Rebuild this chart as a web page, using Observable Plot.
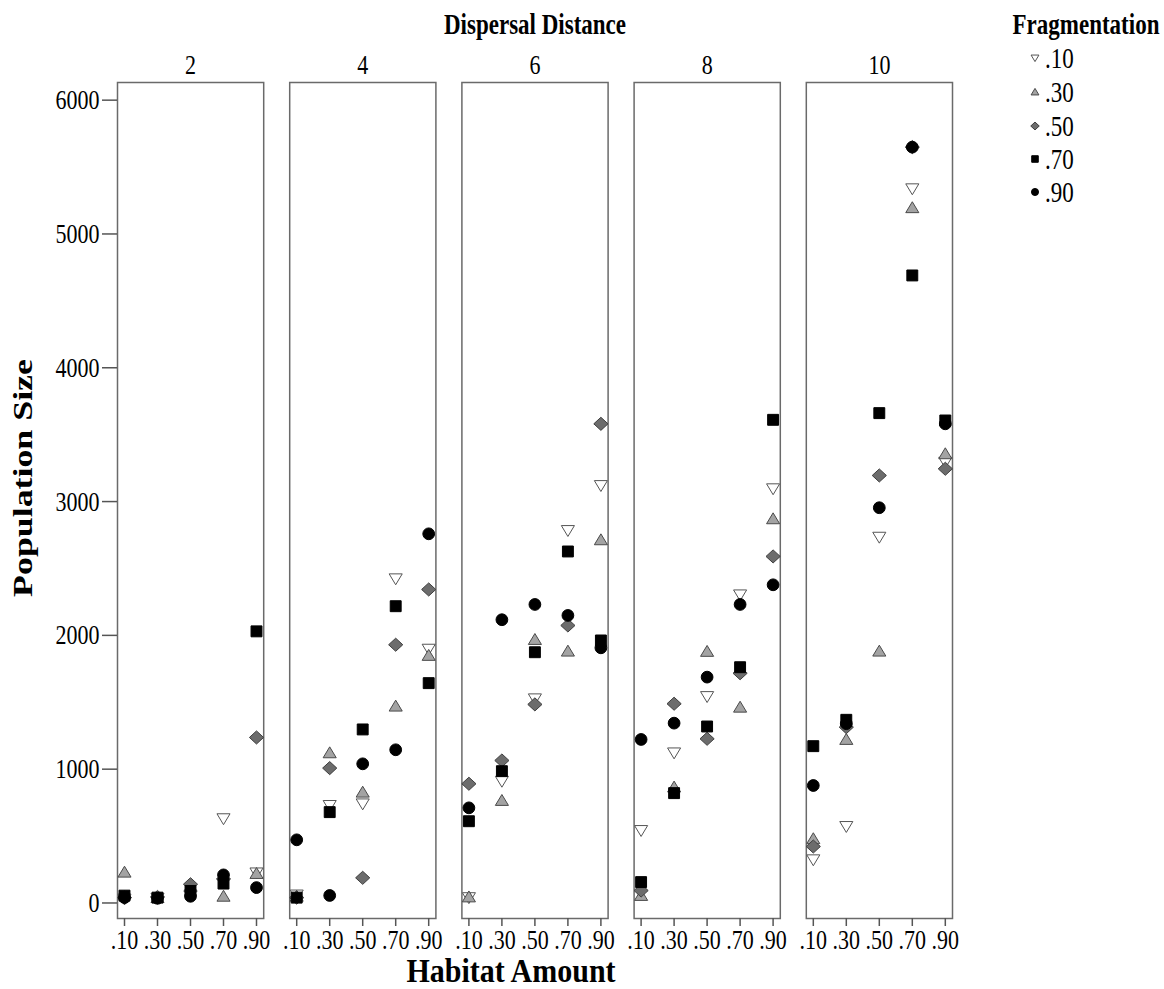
<!DOCTYPE html>
<html><head><meta charset="utf-8">
<script src="https://cdn.jsdelivr.net/npm/d3@7"></script>
<script src="https://cdn.jsdelivr.net/npm/@observablehq/plot@0.6"></script>
<style>body{margin:0;background:#fff;} #chart{position:relative;width:1164px;height:989px;}</style>
</head><body><div id="chart"></div>
<script>
// Facets, categories and tick labels
const dispersal = [2, 4, 6, 8, 10];
const habitat = [".10", ".30", ".50", ".70", ".90"];
const fragmentation = [".10", ".30", ".50", ".70", ".90"];
const yTicks = [0, 1000, 2000, 3000, 4000, 5000, 6000];

// Population size per fragmentation level: one row per dispersal distance (2,4,6,8,10),
// columns = habitat amount (.10,.30,.50,.70,.90)
const frag10 = [[30, 35, 60, 630, 225], [60, 729, 741, 2423, 1897], [40, 910, 1526, 2784, 3120], [542, 1122, 1543, 2303, 3096], [323, 572, 2734, 5338, 3294]];
const frag30 = [[230, 40, 120, 50, 220], [50, 1122, 828, 1471, 1850], [45, 766, 1969, 1882, 2714], [56, 866, 1880, 1463, 2871], [480, 1222, 1882, 5196, 3357]];
const frag50 = [[40, 45, 140, 180, 1237], [40, 1008, 188, 1930, 2343], [891, 1065, 1484, 2074, 3581], [93, 1489, 1227, 1717, 2590], [422, 1314, 3195, 5649, 3245]];
const frag70 = [[55, 40, 90, 145, 2030], [40, 679, 1297, 2218, 1643], [611, 985, 1874, 2627, 1962], [156, 821, 1319, 1762, 3611], [1172, 1369, 3661, 4690, 3606]];
const frag90 = [[40, 35, 50, 210, 115], [472, 56, 1040, 1145, 2759], [711, 2117, 2231, 2149, 1907], [1222, 1344, 1688, 2231, 2378], [878, 1340, 2954, 5649, 3581]];
const seriesValues = [frag10, frag30, frag50, frag70, frag90];

// Build a tidy table
const rows = [];
fragmentation.forEach((f, fi) => {
  dispersal.forEach((d, di) => {
    habitat.forEach((h, hi) => {
      rows.push({frag: f, dispersal: d, habitat: h, value: seriesValues[fi][di][hi]});
    });
  });
});

// Custom symbols (unit shapes, scaled by radius)
function poly(pts) {
  return {
    draw(ctx, size) {
      const k = Math.sqrt(size / Math.PI) / 5.5;
      ctx.moveTo(pts[0][0] * k, pts[0][1] * k);
      for (let i = 1; i < pts.length; i++) ctx.lineTo(pts[i][0] * k, pts[i][1] * k);
      ctx.closePath();
    }
  };
}
const triDown = poly([[-6, -4.5], [6, -4.5], [0, 5.5]]);
const triUp = poly([[-6, 4.5], [6, 4.5], [0, -5.5]]);
const diamond = poly([[-6.5, 0], [0, -6], [6.5, 0], [0, 6]]);
const square = poly([[-5, -5], [5, -5], [5, 5], [-5, 5]]);
const circle = {draw(ctx, size) { const r = Math.sqrt(size / Math.PI) * 0.98; ctx.moveTo(r, 0); ctx.arc(0, 0, r, 0, 2 * Math.PI); ctx.closePath(); }};

const symbolStyles = [
  {symbol: triDown, fill: "#ffffff", stroke: "#555555"},
  {symbol: triUp, fill: "#a3a3a3", stroke: "#4a4a4a"},
  {symbol: diamond, fill: "#6c6c6c", stroke: "#3f3f3f"},
  {symbol: square, fill: "#000000", stroke: "#000000"},
  {symbol: circle, fill: "#000000", stroke: "#000000"}
];

const FONT = "'Liberation Serif', 'Times New Roman', Times, serif";
const STRETCH = 1.28; // the reference text is taller than it is wide

const plot = Plot.plot({
  width: 1164,
  height: 989,
  marginLeft: 117,
  marginRight: 212,
  marginTop: 82,
  marginBottom: 71,
  style: {fontFamily: FONT, fontSize: "22px", color: "#000", background: "#fff"},
  fx: {domain: dispersal, paddingInner: 0.151, paddingOuter: 0, round: false, label: null},
  x: {type: "point", domain: habitat, padding: 0.18, label: null},
  y: {domain: [-116, 6132], label: null},
  marks: [
    Plot.frame({stroke: "#6a6a6a", strokeWidth: 1.5}),
    Plot.axisFx({anchor: "top", tickSize: 0, tickPadding: 9, fontSize: 22, label: null, tickFormat: d => String(d)}),
    Plot.axisX({anchor: "bottom", tickSize: 8, tickPadding: 2, fontSize: 22, label: null, stroke: "#555", strokeWidth: 1.5, ariaLabel: "x-axis"}),
    Plot.axisY({anchor: "left", ticks: yTicks, tickSize: 15, tickPadding: 3, fontSize: 22, label: null, tickFormat: d3.format("d"), stroke: "#555", strokeWidth: 1.5}),
    ...fragmentation.map((f, i) => Plot.dot(rows.filter(r => r.frag === f), {
      fx: "dispersal", x: "habitat", y: "value", r: 6,
      symbol: symbolStyles[i].symbol, fill: symbolStyles[i].fill, stroke: symbolStyles[i].stroke, strokeWidth: 1
    }))
  ]
});

document.getElementById("chart").appendChild(plot);

const svg = d3.select(plot);

// Stretch axis text vertically around its own anchor point
svg.selectAll("text").each(function () {
  const t = this.getAttribute("transform") || "";
  this.setAttribute("transform", `${t} scale(1,${STRETCH})`);
});

// Titles
const titles = svg.append("g").attr("font-family", FONT).attr("font-weight", "bold").attr("fill", "#000");
titles.append("text").attr("font-size", 23).attr("text-anchor", "middle")
  .attr("transform", `translate(535,34) scale(1,${STRETCH})`).text("Dispersal Distance");
titles.append("text").attr("font-size", 30).attr("text-anchor", "middle")
  .attr("transform", `translate(511,982) scale(1,1.1)`).text("Habitat Amount");
titles.append("text").attr("font-size", 28).attr("text-anchor", "middle")
  .attr("transform", `translate(32,478) rotate(-90) scale(${STRETCH},1)`).text("Population Size");
titles.append("text").attr("font-size", 23).attr("text-anchor", "middle")
  .attr("transform", `translate(1086,34) scale(1,${STRETCH})`).text("Fragmentation");

// Legend
const legend = svg.append("g").attr("font-family", FONT).attr("font-size", 23).attr("fill", "#000").attr("text-anchor", "start");
const legendY = [58, 92, 126, 159, 192];
fragmentation.forEach((f, i) => {
  const g = legend.append("g").attr("transform", `translate(0,${legendY[i]})`);
  const st = symbolStyles[i];
  g.append("path")
    .attr("transform", "translate(1035,0)")
    .attr("d", d3.symbol(st.symbol, Math.PI * 3.6 * 3.6)())
    .attr("fill", st.fill).attr("stroke", st.stroke).attr("stroke-width", 1);
  g.append("text").attr("text-anchor", "start").attr("transform", `translate(1045,0) scale(1,${STRETCH})`).attr("dy", "0.35em").text(f);
});
</script>
</body></html>
